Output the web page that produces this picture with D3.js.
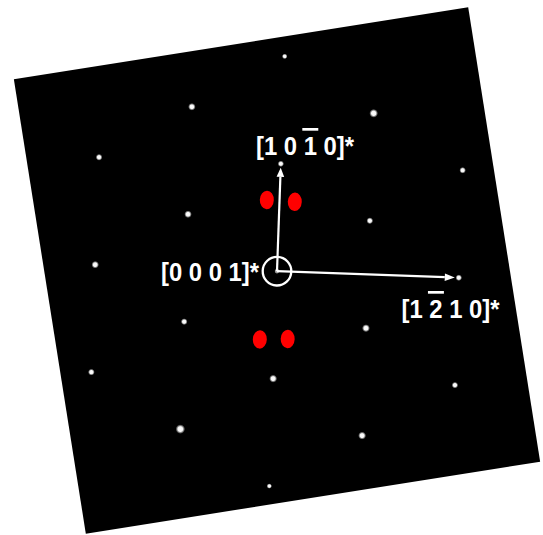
<!DOCTYPE html>
<html><head><meta charset="utf-8">
<script src="https://cdn.jsdelivr.net/npm/d3@7"></script>
<style>html,body{margin:0;padding:0;background:#fff;}svg{display:block;}</style>
</head><body>
<script>
// Reciprocal-lattice spots: u along [1 -2 1 0]*, v along [1 0 -1 0]*, with spot size
const spotU =    [0,   -0.5, 0.5, -1,  0,   1,  -0.5, 0.5, -1,  1,   -0.5, 0.5, -1,  0,   1,  -0.5, 0.5, 0];
const spotV =    [2,    1.5, 1.5,  1,  1,   1,   0.5, 0.5,  0,  0,   -0.5,-0.5, -1, -1,  -1, -1.5,-1.5, -2];
const spotSize = [2.8,  3.8, 4.4, 3.4, 3.2, 3.3, 3.8, 3.4, 3.8, 3.3, 3.4, 4.0, 3.4, 4.0, 3.3, 4.8, 4.0, 2.7];
// transmitted beam
const beamU = [0], beamV = [0];
// marked (red) extra reflections
const redU = [-0.070, 0.084, -0.081, 0.072];
const redV = [0.659, 0.651, -0.640, -0.627];
// direction labels
const labels = ["[1 0 1 0]*", "[0 0 0 1]*", "[1 2 1 0]*"];
const barIndex = [5, -1, 3];  // character carrying an overbar

const W = 543, H = 535;
const svg = d3.select("body").append("svg").attr("width", W).attr("height", H);
svg.append("rect").attr("width", W).attr("height", H).attr("fill", "#fff");

const defs = svg.append("defs");
const grad = defs.append("radialGradient").attr("id", "spot");
grad.append("stop").attr("offset", "0%").attr("stop-color", "#fff").attr("stop-opacity", 1);
grad.append("stop").attr("offset", "50%").attr("stop-color", "#f4f4f4").attr("stop-opacity", 1);
grad.append("stop").attr("offset", "100%").attr("stop-color", "#ccc").attr("stop-opacity", 0);

// detector frame (rotated square)
const cx = 277, cy = 271.2;
svg.append("g").attr("transform", `translate(${cx},${cy - 0.7}) rotate(-9)`)
  .append("rect").attr("x", -230).attr("y", -230).attr("width", 460).attr("height", 460).attr("fill", "#000");

// pattern group, slightly rotated lattice
const g = svg.append("g").attr("transform", `translate(${cx},${cy}) rotate(2.05)`);
const x = d3.scaleLinear().domain([-1, 1]).range([-181.9, 181.9]);
const y = d3.scaleLinear().domain([-1, 1]).range([107.5, -107.5]);

g.selectAll("circle.spot").data(spotU.map((u, i) => ({u, v: spotV[i], r: spotSize[i]})))
  .join("circle").attr("class", "spot")
  .attr("cx", d => x(d.u)).attr("cy", d => y(d.v)).attr("r", d => d.r)
  .attr("fill", "url(#spot)");

g.selectAll("circle.beam").data(beamU.map((u, i) => ({u, v: beamV[i]})))
  .join("circle").attr("class", "beam")
  .attr("cx", d => x(d.u)).attr("cy", d => y(d.v)).attr("r", 2.2).attr("fill", "#9a9a9a");

g.selectAll("ellipse.red").data(redU.map((u, i) => ({u, v: redV[i]})))
  .join("ellipse").attr("class", "red")
  .attr("cx", d => x(d.u)).attr("cy", d => y(d.v)).attr("rx", 7).attr("ry", 9.2)
  .attr("fill", "#ff0000");

// circle around transmitted beam
g.append("circle").attr("cx", x(0)).attr("cy", y(0)).attr("r", 14.3)
  .attr("fill", "none").attr("stroke", "#fff").attr("stroke-width", 2.3);

// arrows
function arrow(x1, y1, x2, y2, len, half) {
  const ang = Math.atan2(y2 - y1, x2 - x1);
  const bx = x2 - len * Math.cos(ang), by = y2 - len * Math.sin(ang);
  g.append("line").attr("x1", x1).attr("y1", y1).attr("x2", bx).attr("y2", by)
    .attr("stroke", "#fff").attr("stroke-width", 2.2);
  const px = -Math.sin(ang) * half, py = Math.cos(ang) * half;
  g.append("path").attr("d", `M${x2},${y2}L${bx + px},${by + py}L${bx - px},${by - py}Z`).attr("fill", "#fff");
}
arrow(x(0), y(0), x(0), y(0.962), 9, 3.8);
arrow(x(0), y(0), x(0.978), y(0), 10, 3.8);

// labels (unrotated), slightly condensed bold sans
const sx = 0.9;
const labelPos = [[305, 154.5, "middle"], [259, 280.5, "end"], [450.5, 317.5, "middle"]];
labels.forEach((t, i) => {
  const lg = svg.append("g").attr("transform", `translate(${labelPos[i][0]},${labelPos[i][1]}) scale(${sx},1)`);
  const txt = lg.append("text").attr("x", 0).attr("y", 0)
    .attr("text-anchor", labelPos[i][2])
    .attr("font-family", "'Liberation Sans', Arial, sans-serif").attr("font-weight", "bold")
    .attr("font-size", 26.5).attr("fill", "#fff").text(t);
  if (barIndex[i] >= 0) {
    const e = txt.node().getExtentOfChar(barIndex[i]);
    lg.append("rect").attr("x", e.x - 1.5).attr("y", -26.5)
      .attr("width", e.width + 3).attr("height", 2.7).attr("fill", "#fff");
  }
});
</script>
</body></html>
